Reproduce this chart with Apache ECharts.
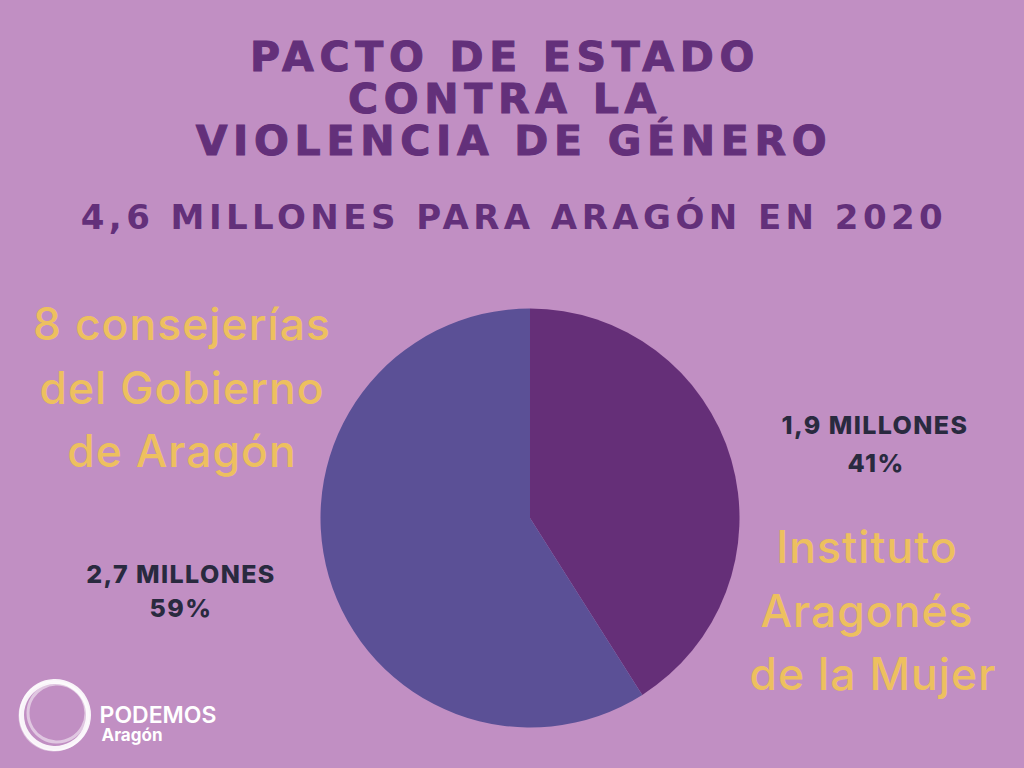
<!DOCTYPE html>
<html><head><meta charset="utf-8">
<style>html,body{margin:0;padding:0;background:#C18FC3}#c{width:1024px;height:768px}</style>
<script src="https://cdn.jsdelivr.net/npm/echarts@6/dist/echarts.min.js"></script>
</head><body><div id="c"></div>
<script>
const titleLines=["PACTO DE ESTADO","CONTRA LA","VIOLENCIA DE GÉNERO"];
const subtitle="4,6 MILLONES PARA ARAGÓN EN 2020";
const categories=["Instituto Aragonés de la Mujer","8 consejerías del Gobierno de Aragón"];
const values=[41,59];
const amountLabels=["1,9 MILLONES","2,7 MILLONES"];
const percentLabels=["41%","59%"];
const nameLines=[["Instituto","Aragonés","de la Mujer"],["8 consejerías","del Gobierno","de Aragón"]];
const colors=["#652F78","#5B5096"];
const wide='"DejaVu Sans"',body='Inter';
const spacing={'bold 41px':'5.7px','bold 34px':'4.45px','500 44.5px':'1px','800 25px':'1.4px'};
function txt(s,x,y,size,weight,fill,f,sw){const st={text:s,x:x,y:y-0.85*size,fill:fill,font:weight+' '+size+'px '+(f||body),align:'center',verticalAlign:'top'};
 if(sw){st.stroke=fill;st.lineWidth=sw;}return{type:'text',style:st};}
const g=[];
const titleY=[71,113,155];
titleLines.forEach((s,i)=>g.push(txt(s,[505,505,514][i],titleY[i],41,'bold','#63307A',wide,1)));
g.push(txt(subtitle,514,229,34,'bold','#63307A',wide));
const yellow='#EDC05F',dark='#292A3F';
nameLines[1].forEach((s,i)=>g.push(txt(s,182,[339,403,466][i],44.5,500,yellow)));
nameLines[0].forEach((s,i)=>g.push(txt(s,[867,867,873][i],[562,626,689][i],44.5,500,yellow)));
g.push(txt(amountLabels[0],875,434,25,800,dark));
g.push(txt(percentLabels[0],876,472,25,800,dark));
g.push(txt(amountLabels[1],181,583,25,800,dark));
g.push(txt(percentLabels[1],181,617,25,800,dark));
[[55,715,33.5,5,.9],[57,713,29,3,.5],[54,716,34.5,2,.45]].forEach(r=>g.push({type:'circle',shape:{cx:r[0],cy:r[1],r:r[2]},style:{fill:'none',stroke:'#fff',lineWidth:r[3],opacity:r[4]}}));
g.push(txt("PODEMOS",158,723,23,600,'#FFFFFF'));
g.push(txt("Aragón",132,741,17,700,'#FFFFFF'));
const chart=echarts.init(document.getElementById('c'),null,{renderer:'svg',width:1024,height:768});
chart.setOption({animation:false,backgroundColor:'#C18FC3',
 series:[{type:'pie',center:[530,518],radius:[0,209.5],startAngle:90,clockwise:true,silent:true,
  label:{show:false},labelLine:{show:false},
  data:categories.map((n,i)=>({name:n,value:values[i],itemStyle:{color:colors[i]}}))}],
 graphic:{elements:g}});
function applySpacing(){document.querySelectorAll('#c svg text').forEach(t=>{const st=t.getAttribute('style')||'';
 for(const k in spacing){if(st.includes(k))t.style.letterSpacing=spacing[k];}});}
applySpacing();chart.on('finished',applySpacing);
</script></body></html>
